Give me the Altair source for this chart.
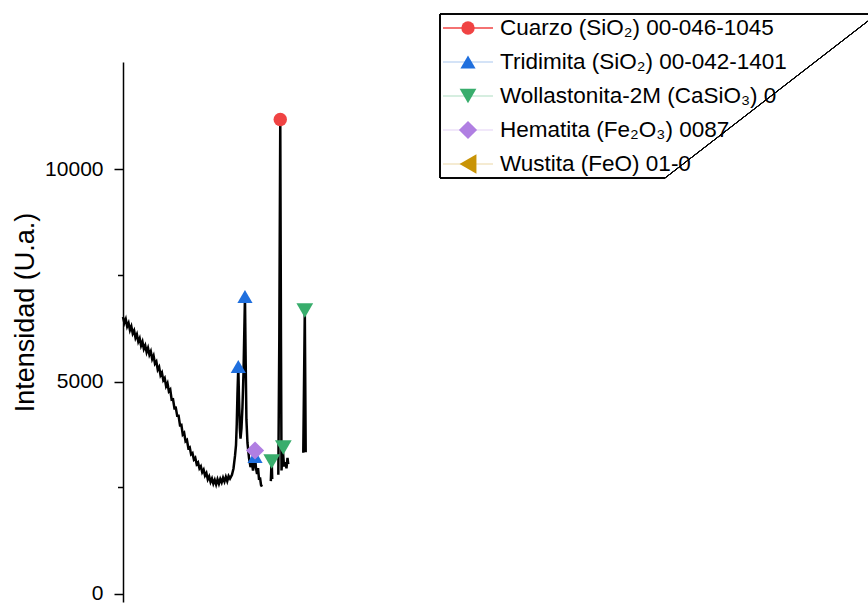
import altair as alt
import pandas as pd

# ---------------- data ----------------
# Diffractogram trace (2θ in degrees, intensity in a.u.), drawn as separate pieces
seg1_theta = [4.0, 4.2, 4.4, 4.6, 4.8, 5.0, 5.2, 5.4, 5.6, 5.8, 6.0, 6.2, 6.4, 6.6, 6.8,
              7.0, 7.2, 7.4, 7.6, 7.8, 8.0, 8.2, 8.4, 8.6, 8.8, 9.0, 9.2, 9.4, 9.6, 9.8,
              10.0, 10.2, 10.4, 10.6, 10.8, 11.0, 11.2, 11.4, 11.6, 11.8, 12.0, 12.2, 12.4,
              12.6, 12.8, 13.0, 13.2, 13.4, 13.6, 13.8, 14.0, 14.2, 14.4, 14.6, 14.8, 15.0,
              15.2, 15.4, 15.6, 15.8, 16.0, 16.2, 16.4, 16.6, 16.8, 17.0, 17.2, 17.4, 17.6,
              17.8, 18.0, 18.2, 18.4, 18.6, 18.8, 19.0, 19.2, 19.4,
              19.68, 19.90, 20.12, 20.26, 20.37, 20.47, 20.59, 20.69, 20.81, 20.91, 21.05,
              21.19, 21.34, 21.55, 21.65, 21.76, 21.91, 22.13, 22.35, 22.56, 22.71, 22.86,
              23.00, 23.14, 23.29, 23.43, 23.58, 23.71, 23.86, 24.00]
seg1_int = [6520, 6380, 6470, 6300, 6380, 6210, 6300, 6130, 6200, 6030, 6110, 5940, 6020, 5850, 5940,
            5770, 5850, 5690, 5790, 5630, 5710, 5530, 5610, 5420, 5470, 5280, 5340, 5150, 5210, 5030,
            5080, 4890, 4960, 4770, 4810, 4570, 4580, 4370, 4380, 4190, 4190, 3970, 3980,
            3750, 3790, 3590, 3620, 3430, 3450, 3280, 3310, 3160, 3200, 3050, 3090, 2950,
            3000, 2860, 2920, 2780, 2840, 2690, 2760, 2630, 2710, 2590, 2680, 2570, 2690,
            2590, 2700, 2620, 2730, 2640, 2750, 2650, 2770, 2710,
            2800, 2950, 3250, 3500, 4000, 4700, 5354, 4600, 3900, 3650, 3900,
            4400, 5200, 7005, 5500, 4100, 3550, 3200, 2980, 3080, 2900, 3100,
            3220, 2950, 2820, 2960, 2680, 2740, 2560, 2520]
seg2_theta = [25.27, 25.34, 25.40, 25.47]
seg2_int = [2650, 2950, 3100, 2700]
seg3_theta = [26.35, 26.49, 26.63, 26.73, 26.81, 26.88, 27.02, 27.17, 27.38, 27.52, 27.67, 27.78]
seg3_int = [2800, 6000, 11179, 6000, 2900, 3100, 3350, 3000, 3100, 2950, 3200, 3050]
seg4_theta = [29.94, 30.16, 30.29]
seg4_int = [3320, 6675, 3330]

# Phases (legend entries)
phases = ["Cuarzo (SiO₂) 00-046-1045",
          "Tridimita (SiO₂) 00-042-1401",
          "Wollastonita-2M (CaSiO₃) 0",
          "Hematita (Fe₂O₃) 0087",
          "Wustita (FeO) 01-0"]

# Identified peaks (phase index, 2θ, intensity)
peak_phase = [1, 1, 1, 0, 2, 2, 2, 3]
peak_theta = [20.59, 21.55, 23.00, 26.63, 25.40, 27.07, 30.16, 23.00]
peak_int = [5354, 7005, 3231, 11179, 3113, 3443, 6675, 3373]

y_ticks = [0, 5000, 10000]
y_minor = [2500, 7500]

# ---------------- styles ----------------
FONT = "Liberation Sans"
fill_colors = ["#f04343", "#1f6fde", "#38ad6c", "#b07fe2", "#c99406"]
line_colors = ["#f04343", "#c6daf4", "#c8e9d6", "#ece1f8", "#f2e5c3"]
shapes = ["circle", "triangle-up", "triangle-down", "diamond", "triangle-left"]
marker_sizes = [180, 380, 380, 430, 380]

trace = pd.concat([
    pd.DataFrame({"theta": seg1_theta, "intensity": seg1_int, "seg": 1}),
    pd.DataFrame({"theta": seg2_theta, "intensity": seg2_int, "seg": 2}),
    pd.DataFrame({"theta": seg3_theta, "intensity": seg3_int, "seg": 3}),
    pd.DataFrame({"theta": seg4_theta, "intensity": seg4_int, "seg": 4}),
], ignore_index=True)
trace["order"] = range(len(trace))

peaks = pd.DataFrame({"phase": [phases[i] for i in peak_phase],
                      "theta": peak_theta, "intensity": peak_int})
peaks["order"] = range(len(peaks))

legend_df = pd.DataFrame({"phase": phases, "row": list(range(len(phases)))})
minor_df = pd.DataFrame({"v": y_minor})

xs = alt.Scale(domain=[4, 111.2], nice=False, zero=False)
ys = alt.Scale(domain=[-200, 12535], nice=False, zero=False)
fill_scale = alt.Scale(domain=phases, range=fill_colors)
shape_scale = alt.Scale(domain=phases, range=shapes)
size_scale = alt.Scale(domain=phases, range=marker_sizes)
stroke_scale = alt.Scale(domain=phases, range=line_colors)

line = alt.Chart(trace).mark_line(color="black", strokeWidth=2.5).encode(
    x=alt.X("theta:Q", scale=xs, axis=None),
    y=alt.Y("intensity:Q", scale=ys,
            axis=alt.Axis(values=y_ticks, format="d", title="Intensidad (U.a.)",
                          labelFontSize=21, titleFontSize=27, titleFontWeight="normal",
                          labelFont=FONT, titleFont=FONT, labelColor="black", titleColor="black",
                          domainColor="black", domainWidth=1.5, tickColor="black", tickWidth=1.5,
                          tickSize=9, labelPadding=11, grid=False,
                          titleX=-98, titleY=250, titleAngle=270, titleAlign="center",
                          titleBaseline="middle")),
    detail="seg:N",
    order="order:Q",
)

minor = alt.Chart(minor_df).mark_rule(color="black", strokeWidth=1.5).encode(
    y=alt.Y("v:Q", scale=ys),
    x=alt.value(-5), x2=alt.value(0),
)

pts = alt.Chart(peaks).mark_point(filled=True, opacity=1, strokeWidth=0).encode(
    x=alt.X("theta:Q", scale=xs),
    y=alt.Y("intensity:Q", scale=ys),
    fill=alt.Fill("phase:N", scale=fill_scale, legend=None),
    shape=alt.Shape("phase:N", scale=shape_scale, legend=None),
    size=alt.Size("phase:N", scale=size_scale, legend=None),
    order="order:Q",
)

main = alt.layer(line, minor, pts)

ly = alt.Scale(domain=[0, 4], range=[-34, 102], nice=False, zero=False)
leg_lines = alt.Chart(legend_df).mark_rule(strokeWidth=1.3).encode(
    x=alt.value(320), x2=alt.value(370),
    y=alt.Y("row:Q", scale=ly, axis=None),
    stroke=alt.Stroke("phase:N", scale=stroke_scale, legend=None),
)
leg_pts = alt.Chart(legend_df).mark_point(filled=True, opacity=1, strokeWidth=0).encode(
    x=alt.value(345),
    y=alt.Y("row:Q", scale=ly, axis=None),
    fill=alt.Fill("phase:N", scale=fill_scale, legend=None),
    shape=alt.Shape("phase:N", scale=shape_scale, legend=None),
    size=alt.Size("phase:N", scale=size_scale, legend=None),
)
leg_text = alt.Chart(legend_df).mark_text(align="left", baseline="middle", fontSize=22.5,
                                          font=FONT, color="black").encode(
    x=alt.value(377),
    y=alt.Y("row:Q", scale=ly, axis=None),
    text="phase:N",
)
# legend frame (decoration)
frame_top = alt.Chart(legend_df).mark_rule(color="black", strokeWidth=1).encode(
    x=alt.value(317), x2=alt.value(745), y=alt.value(-48))
frame_left = alt.Chart(legend_df).mark_rule(color="black", strokeWidth=1).encode(
    x=alt.value(317), y=alt.value(-48), y2=alt.value(116))
frame_bottom = alt.Chart(legend_df).mark_rule(color="black", strokeWidth=1).encode(
    x=alt.value(317), x2=alt.value(542), y=alt.value(116))
frame_diag = alt.Chart(legend_df).mark_rule(color="black", strokeWidth=1).encode(
    x=alt.value(542), x2=alt.value(745), y=alt.value(116), y2=alt.value(-41))

legend = alt.layer(leg_lines, leg_pts, leg_text, frame_top, frame_left, frame_bottom, frame_diag)

chart = alt.layer(main, legend).resolve_scale(y="independent").properties(
    width=745, height=540,
    autosize=alt.AutoSizeParams(type="none"),
    padding={"left": 123, "top": 62, "right": 0, "bottom": 1},
).configure_view(stroke=None)

chart.save("out.html", embed_options={"renderer": "svg", "actions": False})
